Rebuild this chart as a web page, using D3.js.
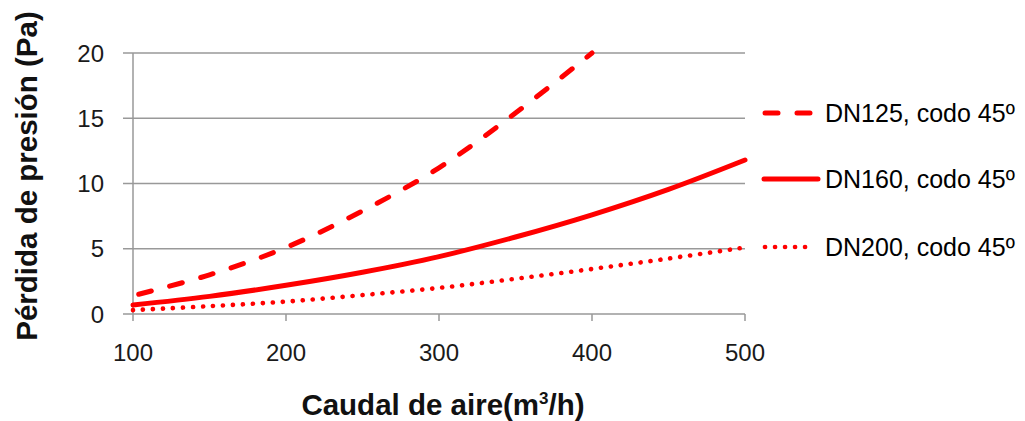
<!DOCTYPE html>
<html>
<head>
<meta charset="utf-8">
<script src="https://cdn.jsdelivr.net/npm/d3@7"></script>
<style>
  body { margin: 0; background: #fff; }
  text { font-family: "Liberation Sans", Arial, sans-serif; }
</style>
</head>
<body>
<div id="chart"></div>
<script>
// caudal (m3/h)
const caudal = [100, 150, 200, 250, 300, 350, 400, 450, 500];
// pérdida de presión (Pa) per series
const dn125 = [1.4, 3.0, 5.1, 7.9, 11.2, 15.4, 20.0];
const dn160 = [0.69, 1.35, 2.2, 3.2, 4.4, 5.9, 7.6, 9.55, 11.8];
const dn200 = [0.3, 0.6, 0.95, 1.45, 2.0, 2.7, 3.45, 4.25, 5.1];

const seriesNames = ["DN125, codo 45º", "DN160, codo 45º", "DN200, codo 45º"];
const xTicks = [100, 200, 300, 400, 500];
const yTicks = [0, 5, 10, 15, 20];

const width = 1025, height = 421;
const plotLeft = 133, plotRight = 745, plotTop = 53, plotBottom = 314;

const x = d3.scaleLinear().domain([100, 500]).range([plotLeft, plotRight]);
const y = d3.scaleLinear().domain([0, 20]).range([plotBottom, plotTop]);

const svg = d3.select("#chart")
    .append("svg")
    .attr("width", width)
    .attr("height", height);

// horizontal gridlines
svg.append("g")
    .selectAll("line")
    .data(yTicks)
    .enter()
    .append("line")
    .attr("x1", plotLeft - 10)
    .attr("x2", plotRight)
    .attr("y1", d => y(d))
    .attr("y2", d => y(d))
    .attr("stroke", "#999")
    .attr("stroke-width", 1.5);

// y axis line
svg.append("line")
    .attr("x1", plotLeft).attr("x2", plotLeft)
    .attr("y1", plotTop).attr("y2", plotBottom + 7)
    .attr("stroke", "#999")
    .attr("stroke-width", 1.5);

// x ticks
svg.append("g")
    .selectAll("line")
    .data(xTicks.slice(1))
    .enter()
    .append("line")
    .attr("x1", d => x(d))
    .attr("x2", d => x(d))
    .attr("y1", plotBottom)
    .attr("y2", plotBottom + 7)
    .attr("stroke", "#999")
    .attr("stroke-width", 1.5);

// tick labels
svg.append("g")
    .selectAll("text")
    .data(yTicks)
    .enter()
    .append("text")
    .attr("x", 104)
    .attr("y", d => y(d))
    .attr("dy", "0.36em")
    .attr("text-anchor", "end")
    .attr("font-size", 24)
    .attr("fill", "#1a1a1a")
    .text(d => d);

svg.append("g")
    .selectAll("text")
    .data(xTicks)
    .enter()
    .append("text")
    .attr("x", d => x(d))
    .attr("y", 361)
    .attr("text-anchor", "middle")
    .attr("font-size", 24)
    .attr("fill", "#1a1a1a")
    .text(d => d);

// axis titles
svg.append("text")
    .attr("x", 443)
    .attr("y", 415)
    .attr("text-anchor", "middle")
    .attr("font-size", 29.5)
    .attr("font-weight", "bold")
    .attr("fill", "#111")
    .html("Caudal de aire(m<tspan font-size='17' dy='-11'>3</tspan><tspan dy='11'>/h)</tspan>");

svg.append("text")
    .attr("transform", "translate(37,176) rotate(-90)")
    .attr("text-anchor", "middle")
    .attr("font-size", 29.5)
    .attr("font-weight", "bold")
    .attr("fill", "#111")
    .text("Pérdida de presión (Pa)");

// series
const styles = [
    { dash: "13,19", w: 5 },
    { dash: null, w: 5 },
    { dash: "0.1,9.9", w: 4.6 }
];
const allSeries = [dn125, dn160, dn200];

const line = d3.line()
    .x(d => x(d[0]))
    .y(d => y(d[1]))
    .curve(d3.curveCatmullRom.alpha(0.5));

allSeries.forEach((vals, i) => {
    const pts = vals.map((v, j) => [caudal[j], v]);
    svg.append("path")
        .attr("d", line(pts))
        .attr("fill", "none")
        .attr("stroke", "#ff0000")
        .attr("stroke-width", styles[i].w)
        .attr("stroke-linecap", "round")
        .attr("stroke-dasharray", styles[i].dash)
        .attr("stroke-dashoffset", i === 0 ? -6 : 0);
});

// legend
const legendY = [113, 179, 247];
const legend = svg.selectAll("g.legend")
    .data(seriesNames)
    .enter()
    .append("g")
    .classed("legend", true)
    .attr("transform", (d, i) => `translate(0,${legendY[i]})`);

legend.append("line")
    .attr("x1", (d, i) => i === 1 ? 764 : 765)
    .attr("x2", (d, i) => i === 1 ? 818 : 813)
    .attr("stroke", "#ff0000")
    .attr("stroke-width", (d, i) => styles[i].w)
    .attr("stroke-linecap", "round")
    .attr("stroke-dasharray", (d, i) => styles[i].dash);

legend.append("text")
    .attr("x", 825)
    .attr("dy", "0.36em")
    .attr("font-size", 25)
    .attr("fill", "#000")
    .text(d => d);
</script>
</body>
</html>
